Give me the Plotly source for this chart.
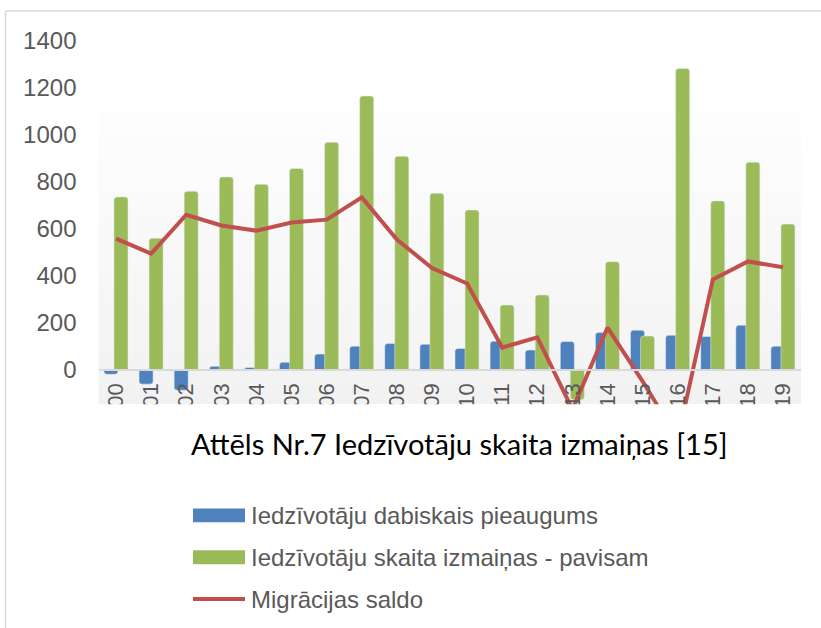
import plotly.graph_objects as go

years = [str(y) for y in range(2000, 2020)]
natural_growth = [-20, -62, -88, 14, 9, 31, 66, 100, 111, 108, 90, 121, 83, 120, 158, 168, 146, 141, 189, 100]
total_change = [736, 560, 760, 821, 790, 857, 969, 1166, 909, 752, 680, 275, 318, -128, 460, 143, 1283, 719, 884, 620]
migration = [558, 494, 660, 614, 592, 627, 639, 734, 554, 433, 367, 94, 137, -170, 179, -50, -295, 384, 461, 436]
ytick_vals = [0, 200, 400, 600, 800, 1000, 1200, 1400]

names = ["Iedzīvotāju dabiskais pieaugums",
         "Iedzīvotāju skaita izmaiņas - pavisam",
         "Migrācijas saldo"]
title_text = "Attēls Nr.7 Iedzīvotāju skaita izmaiņas [15]"

BLUE = "#4F81BD"
GREEN = "#9BBB59"
RED = "#C0504D"
TXT = "#595959"
W, H = 821, 628


def px(x):
    return x / W


def py(y):
    return 1 - y / H


fig = go.Figure()
fig.add_trace(go.Bar(x=years, y=natural_growth, name=names[0], marker=dict(color=BLUE, cornerradius=3),
                     width=0.4, offset=-0.345, showlegend=False))
fig.add_trace(go.Bar(x=years, y=total_change, name=names[1], marker=dict(color=GREEN, cornerradius=3),
                     width=0.4, offset=-0.06, showlegend=False))
fig.add_trace(go.Scatter(x=years, y=migration, name=names[2], mode="lines",
                         line=dict(color=RED, width=4), showlegend=False))

shapes = []
# plot-area gradient background
top, bot = 93, 403.5
n = 16
for i in range(n):
    y0 = top + (bot - top) * i / n
    y1 = top + (bot - top) * (i + 1) / n
    c = int(round(254 - (254 - 242) * (i + 0.5) / n))
    shapes.append(dict(type="rect", xref="paper", yref="paper", layer="below",
                       x0=px(98.5), x1=px(801), y0=py(y1), y1=py(y0),
                       line=dict(width=0), fillcolor=f"rgb({c},{c},{c})"))
# white cover (crop)
shapes.append(dict(type="rect", xref="paper", yref="paper", layer="above",
                   x0=px(6.5), x1=1.0, y0=0, y1=py(403.5),
                   line=dict(width=0), fillcolor="white"))
# border lines
shapes.append(dict(type="line", xref="paper", yref="paper", layer="above",
                   x0=px(5.5), x1=px(5.5), y0=0, y1=py(9), line=dict(color="#d9d9d9", width=1.5)))
shapes.append(dict(type="line", xref="paper", yref="paper", layer="above",
                   x0=px(5.5), x1=1, y0=py(9), y1=py(9), line=dict(color="#d9d9d9", width=1.5)))
# manual legend symbols
leg_y = [515, 557, 599]
shapes.append(dict(type="rect", xref="paper", yref="paper", layer="above",
                   x0=px(193), x1=px(245), y0=py(leg_y[0] + 7), y1=py(leg_y[0] - 7),
                   line=dict(width=0), fillcolor=BLUE))
shapes.append(dict(type="rect", xref="paper", yref="paper", layer="above",
                   x0=px(193), x1=px(245), y0=py(leg_y[1] + 7), y1=py(leg_y[1] - 7),
                   line=dict(width=0), fillcolor=GREEN))
shapes.append(dict(type="line", xref="paper", yref="paper", layer="above",
                   x0=px(193), x1=px(245), y0=py(leg_y[2]), y1=py(leg_y[2]),
                   line=dict(color=RED, width=4)))

annotations = [dict(text=title_text, xref="paper", yref="paper", x=px(460), y=py(443),
                    xanchor="center", yanchor="middle", showarrow=False,
                    font=dict(family="Lato", size=29, color="black"))]
for i, nm in enumerate(names):
    annotations.append(dict(text=nm, xref="paper", yref="paper", x=px(249), y=py(leg_y[i]),
                            xanchor="left", yanchor="middle", showarrow=False,
                            font=dict(family="Liberation Sans", size=24, color=TXT)))

fig.update_layout(
    width=W, height=H, margin=dict(l=0, r=0, t=0, b=0),
    paper_bgcolor="white", plot_bgcolor="rgba(0,0,0,0)",
    barmode="overlay", shapes=shapes, annotations=annotations,
    xaxis=dict(domain=[px(98.5), px(800.6)], anchor="free", position=py(368.8),
               type="category", showline=True, linecolor="#d9d9d9", linewidth=1.5,
               showgrid=False, ticks="", tickangle=-90, ticklabelstandoff=4,
               tickfont=dict(family="Liberation Sans", size=22, color=TXT)),
    yaxis=dict(domain=[py(439.4), py(27.43)], range=[-300, 1450], showgrid=False,
               zeroline=False, showline=False, ticks="", tickvals=ytick_vals,
               ticklabelstandoff=21,
               tickfont=dict(family="Liberation Sans", size=24, color=TXT)),
)

fig.write_html("out.html", config={"displayModeBar": False},
               post_script="document.body.style.margin='0px';document.body.style.overflow='hidden';")
